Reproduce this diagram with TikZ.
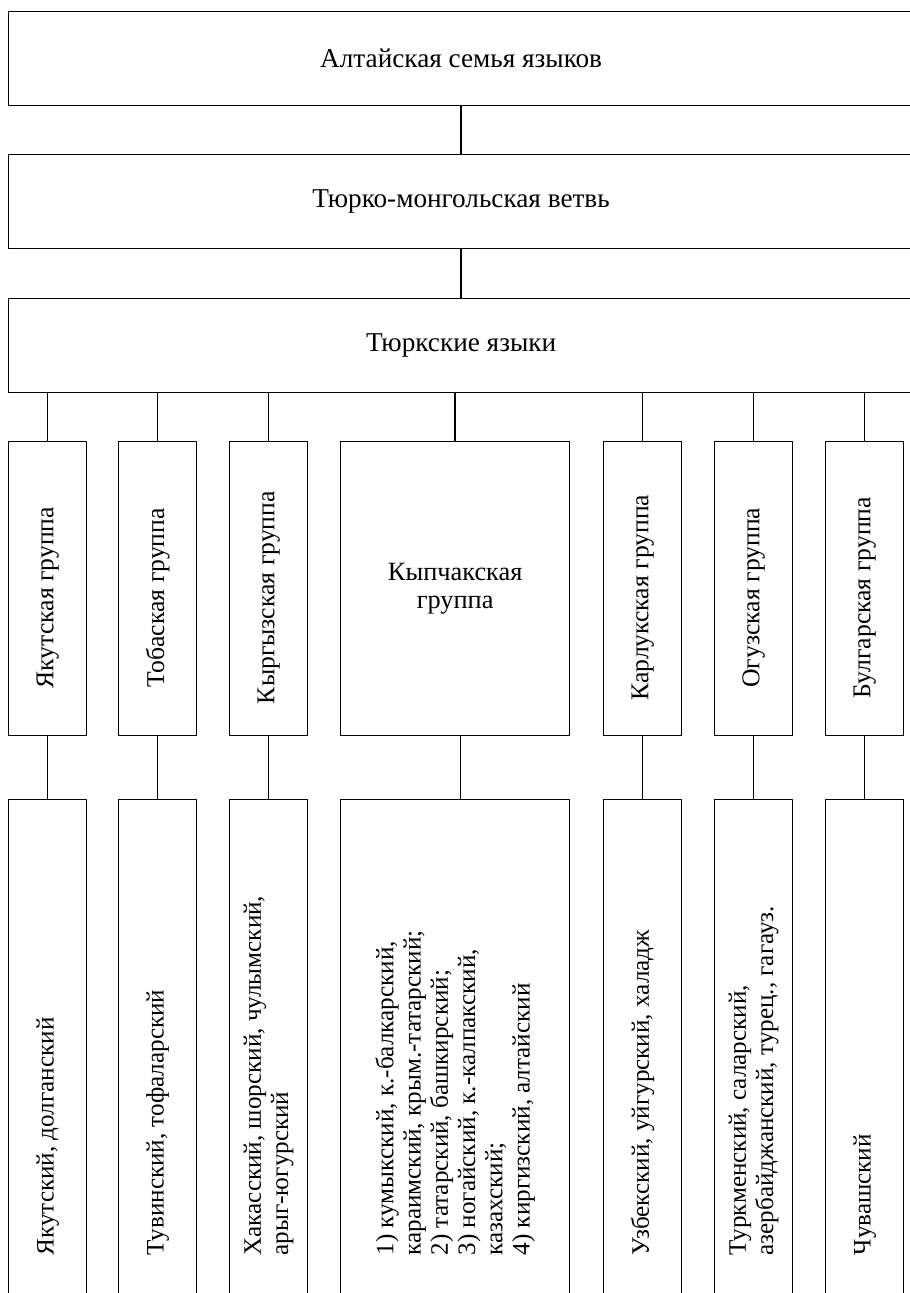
\documentclass[tikz,border=0pt]{standalone}
\usepackage{fontspec}
\setmainfont{Liberation Serif}
\usetikzlibrary{calc}
\begin{document}
\begin{tikzpicture}[x=0.02cm, y=-0.02cm, line width=0.8pt, line cap=round, line join=round]
	\tikzset{box/.style={draw, rectangle, inner sep=0pt, anchor=north west},
		wide/.style={box, minimum width=18.1cm, minimum height=1.88cm, font=\fontsize{15.5}{19}\selectfont},
		grp/.style={box, minimum width=1.56cm, minimum height=5.88cm},
		leaf/.style={box, minimum width=1.56cm, minimum height=10.5cm},
		vtext/.style={rotate=90, inner sep=0pt, font=\fontsize{14.6}{16}\selectfont},
		ltext/.style={rotate=90, inner sep=0pt, anchor=west, align=left, font=\fontsize{14.3}{15.5}\selectfont}}
	\useasboundingbox (0,0) rectangle (909,1293);
	% family, branch, languages
	\node[wide] (alt) at (8,11) {Алтайская семья языков};
	\node[wide] (tm) at (8,154) {Тюрко-монгольская ветвь};
	\node[wide] (turk) at (8,298) {Тюркские языки};
	\draw (alt) -- (tm);
	\draw (tm) -- (turk);
	% groups
	\node[grp] (g1) at (8,441) {};
	\node[grp] (g2) at (118,441) {};
	\node[grp] (g3) at (229,441) {};
	\node[grp, minimum width=4.58cm, align=center, font=\fontsize{15}{16}\selectfont] (g4) at (340,441) {Кыпчакская\\группа};
	\node[grp] (g5) at (603,441) {};
	\node[grp] (g6) at (714,441) {};
	\node[grp] (g7) at (825,441) {};
	\node[vtext] (n1) at ($(g1)+(0,9)$) {Якутская группа};
	\node[vtext] (n2) at ($(g2)+(0,9)$) {Тобаская группа};
	\node[vtext] (n3) at ($(g3)+(0,9)$) {Кыргызская группа};
	\node[vtext] (n5) at ($(g5)+(0,9)$) {Карлукская группа};
	\node[vtext] (n6) at ($(g6)+(0,9)$) {Огузская группа};
	\node[vtext] (n7) at ($(g7)+(0,9)$) {Булгарская группа};
	% languages
	\node[leaf] (l1) at (8,799) {};
	\node[leaf] (l2) at (118,799) {};
	\node[leaf] (l3) at (229,799) {};
	\node[leaf, minimum width=4.58cm] (l4) at (340,799) {};
	\node[leaf] (l5) at (603,799) {};
	\node[leaf] (l6) at (714,799) {};
	\node[leaf] (l7) at (825,799) {};
	\node[ltext] (m1) at ($(l1.north)+(0,457)$) {Якутский, долганский};
	\node[ltext] (m2) at ($(l2.north)+(0,457)$) {Тувинский, тофаларский};
	\node[ltext] (m3) at ($(l3.north)+(0,457)$) {Хакасский, шорский, чулымский,\\арыг-югурский};
	\node[ltext] (m4) at ($(l4.north)+(0,457)$) {1) кумыкский, к.-балкарский,\\караимский, крым.-татарский;\\2) татарский, башкирский;\\3) ногайский, к.-калпакский,\\казахский;\\4) киргизский, алтайский};
	\node[ltext] (m5) at ($(l5.north)+(0,457)$) {Узбекский, уйгурский, халадж};
	\node[ltext] (m6) at ($(l6.north)+(0,457)$) {Туркменский, саларский,\\азербайджанский, турец., гагауз.};
	\node[ltext] (m7) at ($(l7.north)+(0,457)$) {Чувашский};
	\foreach \i in {1,2,3,5,6,7}{
		\draw (g\i.north) -- (g\i.north |- turk.south);
		\draw (g\i) -- (l\i);
	}
	\draw (g4.north) -- (g4.north |- turk.south);
	\draw ([xshift=0.11cm]g4.south) -- ([xshift=0.11cm]l4.north);
\end{tikzpicture}
\end{document}
